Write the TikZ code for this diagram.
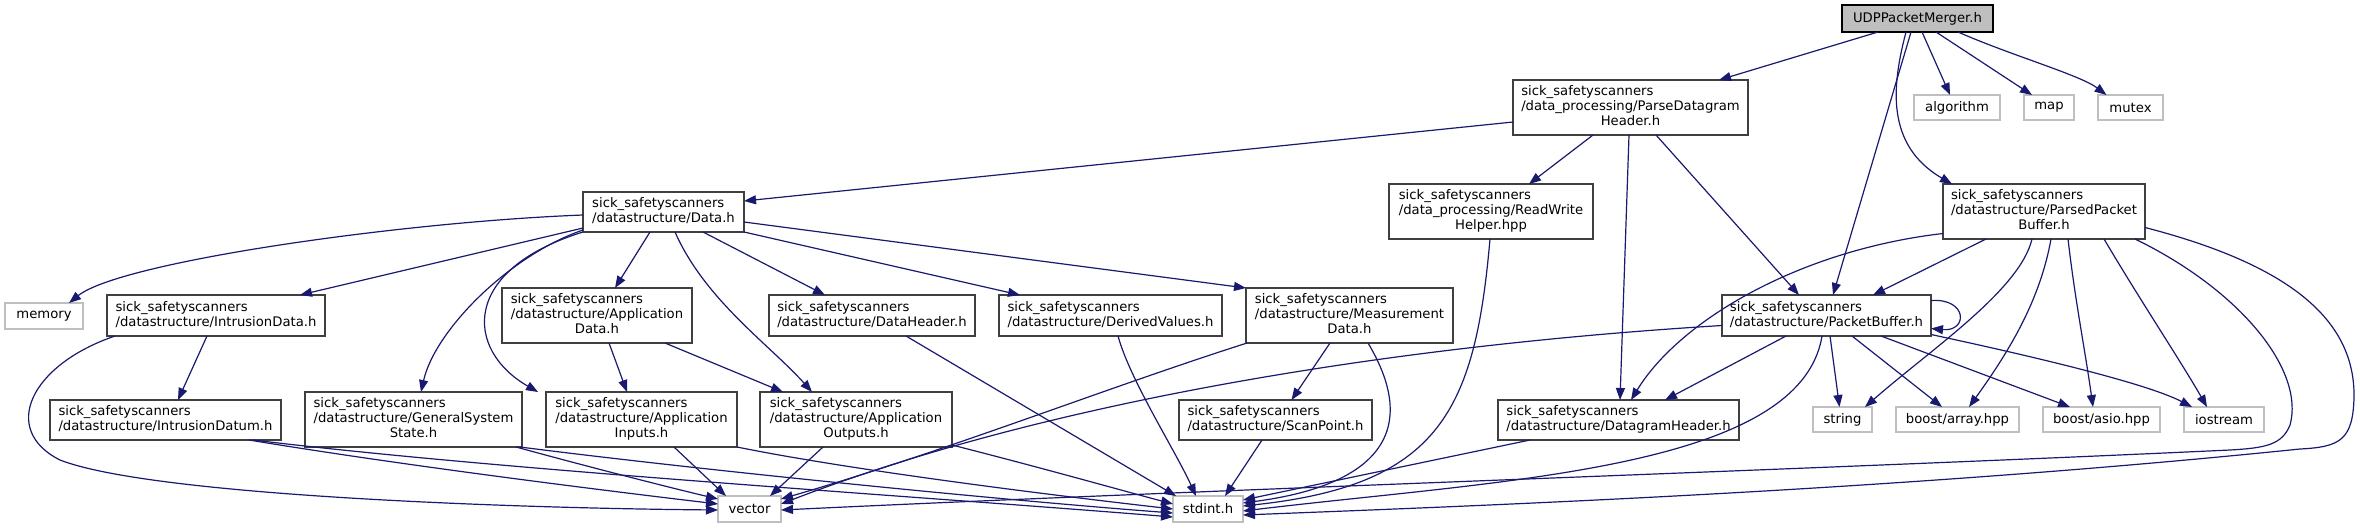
\documentclass[tikz,border=0pt]{standalone}
\usepackage{fontspec}
\setmainfont{DejaVu Sans}
\usetikzlibrary{arrows.meta}
\definecolor{edgec}{HTML}{191970}
\definecolor{nodeb}{HTML}{404040}
\definecolor{extb}{HTML}{BFBFBF}
\definecolor{mainf}{HTML}{BFBFBF}
\newcommand\twol[2]{\begin{tabular}{@{}l@{}}#1\\#2\end{tabular}}
\newcommand\threel[3]{\begin{tabular}{@{}l@{}}#1\\#2\\\multicolumn{1}{@{}c@{}}{#3}\end{tabular}}
\begin{document}
\begin{tikzpicture}[x=1pt,y=-1pt,
  font=\fontsize{13.2}{15}\selectfont,
  sz/.style 2 args={minimum width=#1pt, minimum height=#2pt},
  fbox/.style={draw=nodeb, line width=1.3pt, fill=white, inner sep=0pt, outer sep=0pt, rectangle},
  ebox/.style={draw=extb, line width=1.3pt, fill=white, inner sep=0pt, outer sep=0pt, rectangle},
  mbox/.style={draw=black, line width=1.3pt, fill=mainf, inner sep=0pt, outer sep=0pt, rectangle},
  conn/.style={draw=edgec, line width=1.2pt, -{Triangle[length=12pt,width=9pt]}}]
\fill[white] (0,0) rectangle (2360,528);
\useasboundingbox (0,0) rectangle (2360,528);

% nodes
\node[mbox,sz={151}{27}] (udp) at (1917.5,18.5) {UDPPacketMerger.h};
\node[fbox,sz={235}{55}] (pdh) at (1630.5,107.5) {\threel{sick\_safetyscanners}{/data\_processing/ParseDatagram}{Header.h}};
\node[ebox,sz={86}{25}] (alg) at (1957,107.5) {algorithm};
\node[ebox,sz={50}{25}] (map) at (2049,107.5) {map};
\node[ebox,sz={65}{25}] (mutex) at (2130.5,107.5) {mutex};
\node[fbox,sz={161}{40}] (data) at (663.5,212) {\twol{sick\_safetyscanners}{/datastructure/Data.h}};
\node[fbox,sz={204}{55}] (rwh) at (1491,211.5) {\threel{sick\_safetyscanners}{/data\_processing/ReadWrite}{Helper.hpp}};
\node[fbox,sz={202}{55}] (ppb) at (2044,211.5) {\threel{sick\_safetyscanners}{/datastructure/ParsedPacket}{Buffer.h}};
\node[ebox,sz={78}{26}] (memory) at (44,316) {memory};
\node[fbox,sz={218}{41}] (idata) at (216,315.5) {\twol{sick\_safetyscanners}{/datastructure/IntrusionData.h}};
\node[fbox,sz={190}{55}] (appdata) at (597,315.5) {\threel{sick\_safetyscanners}{/datastructure/Application}{Data.h}};
\node[fbox,sz={206}{41}] (dheader) at (872,315.5) {\twol{sick\_safetyscanners}{/datastructure/DataHeader.h}};
\node[fbox,sz={223}{41}] (derived) at (1110.5,315.5) {\twol{sick\_safetyscanners}{/datastructure/DerivedValues.h}};
\node[fbox,sz={207}{55}] (meas) at (1349.5,315.5) {\threel{sick\_safetyscanners}{/datastructure/Measurement}{Data.h}};
\node[fbox,sz={209}{41}] (pbuf) at (1826.5,315.5) {\twol{sick\_safetyscanners}{/datastructure/PacketBuffer.h}};
\node[fbox,sz={231}{40}] (idatum) at (165.5,420) {\twol{sick\_safetyscanners}{/datastructure/IntrusionDatum.h}};
\node[fbox,sz={217}{55}] (gss) at (413.5,419.5) {\threel{sick\_safetyscanners}{/datastructure/GeneralSystem}{State.h}};
\node[fbox,sz={191}{55}] (appin) at (641.5,419.5) {\threel{sick\_safetyscanners}{/datastructure/Application}{Inputs.h}};
\node[fbox,sz={192}{55}] (appout) at (856,419.5) {\threel{sick\_safetyscanners}{/datastructure/Application}{Outputs.h}};
\node[fbox,sz={193}{40}] (scan) at (1275.5,420) {\twol{sick\_safetyscanners}{/datastructure/ScanPoint.h}};
\node[fbox,sz={241}{40}] (dgh) at (1618.5,420) {\twol{sick\_safetyscanners}{/datastructure/DatagramHeader.h}};
\node[ebox,sz={59}{25}] (string) at (1842.5,419.5) {string};
\node[ebox,sz={123}{25}] (array) at (1957.5,419.5) {boost/array.hpp};
\node[ebox,sz={117}{25}] (asio) at (2101.5,419.5) {boost/asio.hpp};
\node[ebox,sz={80}{25}] (iostream) at (2224,419.5) {iostream};
\node[ebox,sz={63}{26}] (vector) at (749.5,509) {vector};
\node[ebox,sz={70}{26}] (stdint) at (1208,509) {stdint.h};

% UDPPacketMerger.h
\draw[conn] ([xshift=36pt]udp.south west) -- ([xshift=206pt]pdh.north west);
\draw[conn] ([xshift=69pt]udp.south west) -- ([xshift=111pt]pbuf.north west);
\draw[conn] ([xshift=64pt]udp.south west) .. controls (1892,85) and (1885,145) .. ([xshift=9pt]ppb.north west);
\draw[conn] ([xshift=80pt]udp.south west) -- ([xshift=-7pt]alg.north);
\draw[conn] ([xshift=94pt]udp.south west) -- ([xshift=-17pt]map.north);
\draw[conn] ([xshift=116pt]udp.south west) .. controls (2010,55) and (2080,75) .. ([xshift=-24pt]mutex.north);

% ParseDatagramHeader.h
\draw[conn] ([yshift=-14.5pt]pdh.west) -- ([yshift=11pt]data.east);
\draw[conn] ([xshift=80pt]pdh.south west) -- ([xshift=140pt]rwh.north west);
\draw[conn] ([xshift=116pt]pdh.south west) -- ([xshift=122pt]dgh.north west);
\draw[conn] ([xshift=143pt]pdh.south west) -- ([xshift=77pt]pbuf.north west);

% Data.h
\draw[conn] ([yshift=-3pt]data.west) .. controls (400,222) and (120,262) .. ([xshift=64pt]memory.north west);
\draw[conn] ([yshift=-16pt]data.west) -- ([xshift=193pt]idata.north west);
\draw[conn] ([yshift=-18pt]data.west) .. controls (510,255) and (435,330) .. ([xshift=116pt]gss.north west);
\draw[conn] (data.south west) .. controls (460,270) and (465,350) .. ([xshift=-8pt]appin.north west);
\draw[conn] ([xshift=67pt]data.south west) -- ([xshift=113pt]appdata.north west);
\draw[conn] ([xshift=92pt]data.south west) .. controls (705,300) and (770,345) .. ([xshift=52pt]appout.north west);
\draw[conn] ([xshift=120pt]data.south west) -- ([xshift=56pt]dheader.north west);
\draw[conn] (data.south east) -- ([xshift=21pt]derived.north west);
\draw[conn] ([yshift=-10pt]data.east) -- (meas.north west);

% ApplicationData.h
\draw[conn] ([xshift=107pt]appdata.south west) -- ([xshift=81pt]appin.north west);
\draw[conn] ([xshift=163pt]appdata.south west) -- ([xshift=23pt]appout.north west);

% IntrusionData.h
\draw[conn] ([xshift=100pt]idata.south west) -- ([xshift=128pt]idatum.north west);
\draw[conn] ([xshift=8pt]idata.south west) .. controls (30,365) and (0,430) .. (60,460) .. controls (150,495) and (500,508) .. ([yshift=-1pt]vector.west);

% IntrusionDatum.h
\draw[conn] ([xshift=-32pt]idatum.south east) .. controls (400,465) and (600,490) .. ([yshift=5pt]vector.west);
\draw[conn] ([xshift=-28pt]idatum.south east) .. controls (500,470) and (900,495) .. ([yshift=-8pt]stdint.west);

% GeneralSystemState.h
\draw[conn] ([xshift=-6pt]gss.south east) .. controls (600,470) and (680,490) .. ([yshift=10pt]vector.west);
\draw[conn] ([xshift=-2pt]gss.south east) .. controls (700,470) and (1000,500) .. ([yshift=-4pt]stdint.west);

% ApplicationInputs.h / Outputs.h
\draw[conn] ([xshift=128pt]appin.south west) -- ([xshift=8pt]vector.north west);
\draw[conn] (appin.south east) .. controls (850,470) and (1050,495) .. (stdint.west);
\draw[conn] ([xshift=63pt]appout.south west) -- ([xshift=-11pt]vector.north east);
\draw[conn] ([yshift=2pt]appout.south east) .. controls (1050,470) and (1120,490) .. ([yshift=5pt]stdint.west);

% DataHeader.h, DerivedValues.h
\draw[conn] ([xshift=137pt]dheader.south west) -- ([xshift=3pt]stdint.north west);
\draw[conn] ([xshift=119pt]derived.south west) .. controls (1130,380) and (1175,450) .. ([xshift=23pt]stdint.north west);

% MeasurementData.h
\draw[conn] ([xshift=1pt]meas.south west) .. controls (1100,390) and (950,450) .. ([yshift=10pt]vector.east);
\draw[conn] ([xshift=84pt]meas.south west) -- ([xshift=16pt]scan.north);
\draw[conn] ([xshift=122pt]meas.south west) .. controls (1420,430) and (1380,485) .. ([yshift=6pt]stdint.east);

% ScanPoint.h, ReadWriteHelper.hpp, DatagramHeader.h
\draw[conn] ([xshift=83pt]scan.south west) -- ([xshift=-18pt]stdint.north east);
\draw[conn] ([xshift=101pt]rwh.south west) .. controls (1475,410) and (1440,485) .. ([yshift=3pt]stdint.east);
\draw[conn] ([xshift=32pt]dgh.south west) -- ([yshift=9pt]stdint.east);

% PacketBuffer.h
\draw[conn] ([yshift=-10pt]pbuf.west) .. controls (1400,345) and (1050,400) .. ([yshift=5pt]vector.east);
\draw[conn] ([xshift=64pt]pbuf.south west) -- ([xshift=167pt]dgh.north west);
\draw[conn] ([xshift=100pt]pbuf.south west) .. controls (1800,470) and (1500,480) .. ([yshift=-2pt]stdint.east);
\draw[conn] ([xshift=108pt]pbuf.south west) -- ([xshift=-3pt]string.north);
\draw[conn] ([xshift=130pt]pbuf.south west) -- ([xshift=46pt]array.north west);
\draw[conn] ([xshift=159pt]pbuf.south west) -- ([xshift=27pt]asio.north west);
\draw[conn] ([yshift=-19pt]pbuf.east) .. controls (2050,360) and (2150,385) .. ([xshift=8pt]iostream.north west);
\draw[conn] ([yshift=15pt]pbuf.east) .. controls (1968,298) and (1968,332) .. ([yshift=-13pt]pbuf.east);

% ParsedPacketBuffer.h
\draw[conn] ([xshift=43pt]ppb.south west) -- ([xshift=151pt]pbuf.north west);
\draw[conn] ([yshift=-22pt]ppb.west) .. controls (1800,250) and (1680,320) .. ([xshift=133pt]dgh.north west);
\draw[conn] ([xshift=89pt]ppb.south west) .. controls (2020,290) and (1930,350) .. ([xshift=-7pt]string.north east);
\draw[conn] ([xshift=108pt]ppb.south west) .. controls (2040,300) and (2010,350) .. ([xshift=73pt]array.north west);
\draw[conn] ([xshift=125pt]ppb.south west) .. controls (2075,300) and (2085,350) .. ([xshift=50pt]asio.north west);
\draw[conn] ([xshift=161pt]ppb.south west) .. controls (2140,300) and (2180,360) .. ([xshift=23pt]iostream.north west);
\draw[conn] ([xshift=-10pt]ppb.south east) .. controls (2240,290) and (2305,370) .. (2290,425) .. controls (2282,445) and (2265,448) .. (2230,450) .. controls (1800,470) and (1200,490) .. ([yshift=-1pt]vector.east);
\draw[conn] ([yshift=-16pt]ppb.east) .. controls (2290,265) and (2355,320) .. (2354,397) .. controls (2353,440) and (2340,447) .. (2300,449) .. controls (1900,490) and (1500,505) .. ([yshift=-6pt]stdint.east);
\end{tikzpicture}
\end{document}
